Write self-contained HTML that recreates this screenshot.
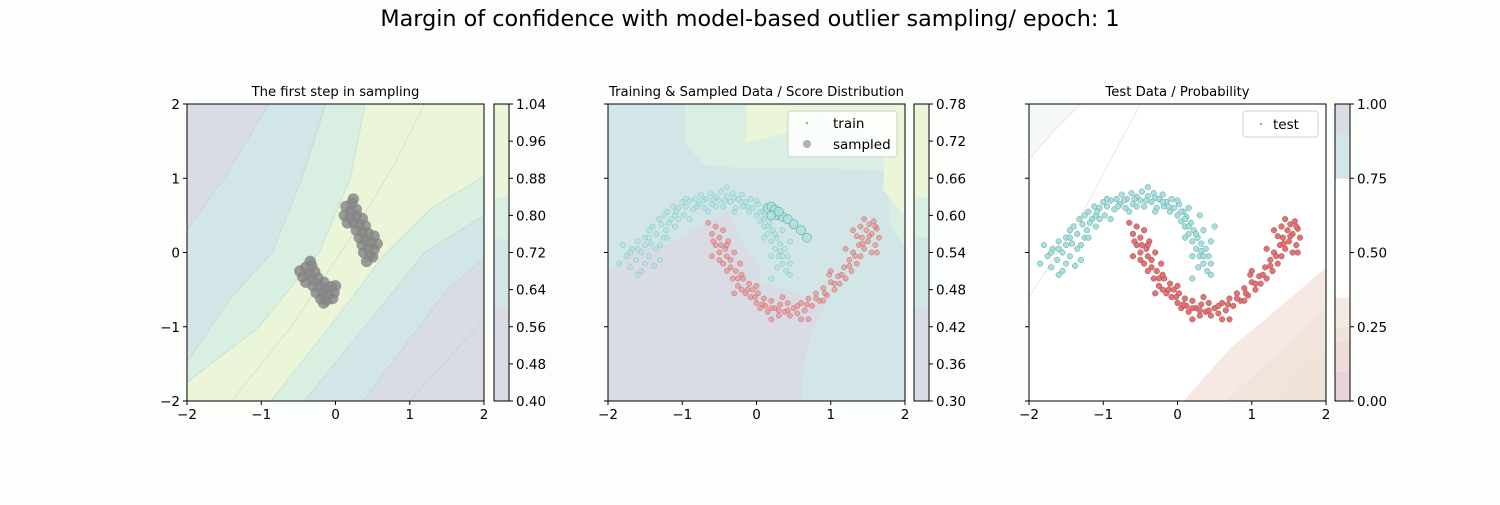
<!DOCTYPE html>
<html><head><meta charset="utf-8"><style>
html,body{margin:0;padding:0;background:#fcfefc;}
svg text{font-family:"DejaVu Sans","Liberation Sans",sans-serif;fill:#000;}
</style></head><body>
<svg id="fig" width="1500" height="500" viewBox="0 0 1500 500" xmlns="http://www.w3.org/2000/svg">
<rect width="1500" height="500" fill="#fcfefc"/>
<text x="750" y="26" font-size="22.3" text-anchor="middle">Margin of confidence with model-based outlier sampling/ epoch: 1</text>
</svg>
<script>
// ---------- data ----------
const axisTicks = [-2, -1, 0, 1, 2];
const cb1Ticks = [0.40, 0.48, 0.56, 0.64, 0.72, 0.80, 0.88, 0.96, 1.04];
const cb2Ticks = [0.30, 0.36, 0.42, 0.48, 0.54, 0.60, 0.66, 0.72, 0.78];
const cb3Ticks = [0.00, 0.25, 0.50, 0.75, 1.00];
const cb1Levels = [0.40, 0.60, 0.75, 0.84, 1.04];
const cb2Levels = [0.30, 0.45, 0.565, 0.63, 0.78];
const cb3Levels = [0.00, 0.10, 0.20, 0.25, 0.35, 0.75, 0.90, 1.00];
const cb1Colors = ['#d9dbe5', '#d3e6e7', '#d8efe2', '#ebf5d8'];
const cb3Colors = ['#e6d2d9', '#efdcd9', '#efe4d9', '#f6e8e3', '#ffffff', '#d3e6e7', '#d9dbe5'];

const moonCyan = [[-1.85,-0.15],[-1.75,-0.05],[-1.7,-0.2],[-1.68,0.05],[-1.62,-0.1],[-1.6,0.15],[-1.55,-0.25],[-1.55,0.0],[-1.5,0.2],[-1.5,0.1],[-1.45,-0.05],[-1.45,0.3],[-1.42,0.12],[-1.4,0.35],[-1.38,-0.18],[-1.35,0.25],[-1.32,0.45],[-1.3,0.1],[-1.28,0.38],[-1.25,0.5],[-1.22,0.3],[-1.2,0.55],[-1.15,0.45],[-1.12,0.62],[-1.1,0.5],[-1.05,0.6],[-1.0,0.68],[-0.98,0.5],[-0.95,0.62],[-0.9,0.7],[-0.85,0.58],[-0.82,0.72],[-0.78,0.65],[-0.75,0.78],[-0.7,0.6],[-0.68,0.72],[-0.62,0.8],[-0.6,0.65],[-0.55,0.75],[-0.5,0.7],[-0.48,0.82],[-0.45,0.62],[-0.4,0.76],[-0.35,0.68],[-0.32,0.8],[-0.28,0.6],[-0.25,0.72],[-0.2,0.78],[-0.18,0.62],[-0.15,0.68],[-0.1,0.55],[-0.08,0.72],[-0.05,0.6],[0.0,0.5],[0.02,0.65],[0.05,0.42],[0.08,0.55],[0.1,0.35],[0.12,0.48],[0.15,0.25],[0.18,0.4],[0.2,0.15],[0.22,0.3],[0.25,0.05],[0.27,0.2],[0.3,-0.05],[0.32,0.12],[0.35,-0.15],[0.38,0.05],[0.4,-0.25],[0.42,-0.05],[0.2,-0.05],[0.3,0.5],[0.5,0.35],[0.45,0.15],[0.1,0.2],[-1.3,-0.1],[-0.9,0.45],[-0.3,0.55],[0.2,-0.35],[-1.6,-0.3],[-1.1,0.35],[-0.65,0.55],[0.0,0.7],[0.35,0.3],[-1.8,0.1],[-0.4,0.88],[0.15,0.6],
 [-1.7,0.0],[-1.5,-0.15],[-1.35,0.05],[-1.25,0.2],[-1.18,0.4],[-1.08,0.55],[-0.95,0.72],[-0.8,0.62],[-0.72,0.7],[-0.58,0.72],[-0.42,0.7],[-0.3,0.74],[-0.12,0.62],[0.05,0.55],[0.15,0.35],[0.25,0.25],[0.32,0.02],[0.45,-0.15],[0.28,-0.2],[-1.45,0.2],[-1.6,0.05],[-1.05,0.45],[-0.55,0.62],[0.1,0.45],[0.35,-0.05],[0.45,-0.3],[-1.2,0.2],[-0.2,0.68]];
const moonRed = [[-0.65,0.4],[-0.6,0.25],[-0.55,0.1],[-0.55,0.35],[-0.5,0.0],[-0.5,0.2],[-0.45,-0.15],[-0.45,0.3],[-0.42,0.05],[-0.4,-0.25],[-0.38,0.15],[-0.35,-0.1],[-0.32,-0.35],[-0.3,0.0],[-0.28,-0.25],[-0.25,-0.45],[-0.22,-0.15],[-0.2,-0.5],[-0.18,-0.35],[-0.15,-0.55],[-0.1,-0.42],[-0.08,-0.6],[-0.05,-0.5],[0.0,-0.68],[0.02,-0.55],[0.05,-0.75],[0.1,-0.62],[0.12,-0.72],[0.15,-0.8],[0.2,-0.65],[0.25,-0.75],[0.3,-0.85],[0.32,-0.7],[0.38,-0.8],[0.42,-0.68],[0.45,-0.85],[0.5,-0.75],[0.55,-0.82],[0.6,-0.68],[0.65,-0.78],[0.7,-0.62],[0.75,-0.72],[0.8,-0.55],[0.85,-0.65],[0.9,-0.48],[0.95,-0.58],[1.0,-0.4],[1.05,-0.5],[1.1,-0.32],[1.12,-0.42],[1.18,-0.2],[1.2,-0.35],[1.25,-0.1],[1.28,-0.25],[1.3,0.0],[1.35,-0.15],[1.38,0.1],[1.4,-0.05],[1.42,0.2],[1.45,0.05],[1.48,0.3],[1.5,0.15],[1.52,0.38],[1.55,0.25],[1.58,0.42],[1.6,0.1],[1.62,0.32],[1.65,0.2],[1.3,0.3],[1.0,-0.25],[0.35,-0.6],[-0.3,-0.55],[-0.6,-0.05],[0.7,-0.9],[1.2,0.05],[-0.4,0.1],[0.0,-0.45],[0.6,-0.9],[1.4,0.35],[-0.2,-0.3],[0.9,-0.65],[1.55,0.0],
 [-0.58,0.15],[-0.48,0.1],[-0.4,-0.05],[-0.35,-0.2],[-0.25,-0.35],[-0.12,-0.5],[-0.02,-0.6],[0.08,-0.7],[0.2,-0.75],[0.3,-0.78],[0.42,-0.78],[0.55,-0.72],[0.68,-0.7],[0.8,-0.62],[0.92,-0.55],[1.05,-0.42],[1.15,-0.3],[1.25,-0.18],[1.33,-0.05],[1.43,0.12],[1.52,0.22],[1.6,0.35],[1.45,0.45],[1.62,0.0],[0.2,-0.9],[-0.5,-0.1],[0.98,-0.3],[1.35,0.22]];
const sampledPts = [[0.15,0.6],[0.2,0.62],[0.25,0.58],[0.28,0.5],[0.35,0.48],[0.42,0.45],[0.5,0.38],[0.6,0.3],[0.68,0.2],[0.2,0.5],[0.3,0.55]];
const blobLow = [[-0.48,-0.25],[-0.4,-0.2],[-0.32,-0.18],[-0.44,-0.33],[-0.36,-0.28],[-0.28,-0.26],[-0.4,-0.4],[-0.32,-0.36],[-0.24,-0.34],[-0.16,-0.4],[-0.3,-0.45],[-0.22,-0.44],[-0.14,-0.48],[-0.06,-0.46],[-0.26,-0.54],[-0.18,-0.54],[-0.1,-0.56],[-0.02,-0.54],[-0.2,-0.62],[-0.12,-0.64],[-0.04,-0.62],[-0.16,-0.68],[-0.34,-0.12],[0.0,-0.45]];
const blobHigh = [[0.14,0.62],[0.22,0.66],[0.2,0.56],[0.28,0.58],[0.12,0.5],[0.2,0.48],[0.28,0.5],[0.36,0.46],[0.16,0.4],[0.24,0.4],[0.32,0.38],[0.4,0.36],[0.28,0.3],[0.36,0.28],[0.44,0.26],[0.52,0.22],[0.32,0.2],[0.4,0.18],[0.48,0.14],[0.56,0.12],[0.36,0.1],[0.44,0.06],[0.52,0.04],[0.38,0.0],[0.46,-0.04],[0.42,-0.12],[0.5,-0.06],[0.24,0.72]];

// region boundaries (data coords)
const p1Regions = [
 {c:'#d9dbe5', pts:[[-2,-2],[2,-2],[2,2],[-2,2]]},
 {c:'#d3e6e7', pts:[[-2,0.3],[-1.5,1.0],[-0.9,2],[2,2],[2,-0.08],[1.5,-0.5],[0.37,-2],[-2,-2]]},
 {c:'#d8efe2', pts:[[-2,-1.47],[-1.4,-0.6],[-0.85,0],[-0.45,1],[-0.13,2],[2,2],[2,0.5],[1.2,0],[0.8,-0.5],[-0.42,-2],[-2,-2]]},
 {c:'#ebf5d8', pts:[[-2,-1.75],[-1.03,-1],[-0.22,0],[0.2,1],[0.4,2],[2,2],[2,1.03],[1.3,0.6],[0.68,0],[0.0,-0.9],[-0.87,-2],[-2,-2]]}
];
const p2Regions = [
 {c:'#d3e6e7', pts:[[-2,-2],[2,-2],[2,2],[-2,2]]},
 {c:'#d8efe2', pts:[[-0.97,2],[-0.95,1.45],[-0.7,1.18],[-0.1,1.13],[0.6,1.15],[1.75,1.1],[1.8,0.4],[2,0.05],[2,2]]},
 {c:'#ebf5d8', pts:[[-0.14,2],[-0.14,1.48],[0.4,1.6],[0.9,1.85],[1.7,1.5],[1.72,1.05],[1.7,0.85],[2,0.48],[2,2]]},
 {c:'#d9dbe5', pts:[[-2,-2],[-2,-0.3],[-1.66,0.05],[-1.2,0.11],[-0.74,0.37],[-0.38,0.55],[-0.22,0.2],[0.05,-0.22],[0.05,-0.4],[0.4,-0.5],[0.95,-0.74],[0.77,-1.0],[0.64,-1.5],[0.6,-2]]}
];
const p3Regions = [
 {c:'#f3f9f9', pts:[[-2,2],[-2,1.25],[-1.7,1.6],[-1.3,2]]},
 {c:'#f6e8e3', pts:[[0.08,-2],[0.7,-1.3],[1.3,-0.8],[2,-0.2],[2,-2]]},
 {c:'#f1e4dc', pts:[[0.65,-2],[1.3,-1.4],[2,-0.75],[2,-2]]},
 {c:'#efe2d6', pts:[[1.3,-2],[1.7,-1.55],[2,-1.3],[2,-2]]}
];
const p1Lines = [[[-2,0.3],[-1.5,1.0],[-0.9,2]],[[-2,-1.47],[-1.4,-0.6],[-0.85,0],[-0.45,1],[-0.13,2]],[[-2,-1.75],[-1.03,-1],[-0.22,0],[0.2,1],[0.4,2]],[[-1.4,-2],[-0.6,-1],[0.2,0.2],[0.8,1.2],[1.2,2]],[[-0.87,-2],[0.0,-0.9],[0.68,0],[1.3,0.6],[2,1.03]],[[-0.42,-2],[0.8,-0.5],[1.2,0],[2,0.5]],[[0.37,-2],[1.5,-0.5],[2,-0.08]],[[1.0,-2],[2,-0.9]]];
const p3Lines = [[[-2,-0.6],[-1.3,0.5],[-0.5,2]],[[-2,1.25],[-1.7,1.6],[-1.3,2]]];

// ---------- drawing ----------
const NS = 'http://www.w3.org/2000/svg';
const svg = document.getElementById('fig');
const W = 297, H = 297, TOP = 104;
function mk(tag, attrs, parent){const e=document.createElementNS(NS,tag);for(const k in attrs)e.setAttribute(k,attrs[k]);(parent||svg).appendChild(e);return e;}
function sx(x0,v){return x0+(v+2)/4*W;}
function sy(v){return TOP+H-(v+2)/4*H;}
function ptsStr(x0,arr){return arr.map(p=>sx(x0,p[0]).toFixed(1)+','+sy(p[1]).toFixed(1)).join(' ');}

function panel(x0, title, key){
  const g = mk('g',{});
  
  
  const clipId='clip-'+key;
  const cp=mk('clipPath',{id:clipId},g);mk('rect',{x:x0,y:TOP,width:W,height:H},cp);
  const inner=mk('g',{'clip-path':'url(#'+clipId+')'},g);
  mk('rect',{x:x0,y:TOP,width:W,height:H,fill:'#ffffff'},inner);
  const t=mk('text',{x:x0+W/2,y:TOP-8,'font-size':13.2,'text-anchor':'middle'},g);
  t.textContent=title;
  
  
  return {g,inner};
}
function axes(g,x0,key,showY){
  const fr=mk('rect',{x:x0,y:TOP,width:W,height:H,fill:'none',stroke:'#000','stroke-width':1},g);
  
  
  axisTicks.forEach(v=>{
    const x=sx(x0,v);
    mk('line',{x1:x,y1:TOP+H,x2:x,y2:TOP+H+4,stroke:'#000'},g);
    const t=mk('text',{x:x,y:TOP+H+18,'font-size':13.5,'text-anchor':'middle'},g);
    t.textContent=v<0?'\u2212'+Math.abs(v):String(v);
    
    
    const y=sy(v);
    mk('line',{x1:x0,y1:y,x2:x0-4,y2:y,stroke:'#000'},g);
    if(showY){
      const ty=mk('text',{x:x0-7,y:y+5,'font-size':13.5,'text-anchor':'end'},g);
      ty.textContent=v<0?'\u2212'+Math.abs(v):String(v);
      
      
    }
  });
}
function colorbar(x,key,levels,colors,ticks,lo,hi){
  const g=mk('g',{});
  
  
  const cy=v=>TOP+H-(v-lo)/(hi-lo)*H;
  for(let i=0;i<colors.length;i++){
    mk('rect',{x:x,y:cy(levels[i+1]),width:15,height:cy(levels[i])-cy(levels[i+1])+0.5,fill:colors[i]},g);
  }
  mk('rect',{x:x,y:TOP,width:15,height:H,fill:'none',stroke:'#000'},g);
  ticks.forEach(v=>{
    const y=cy(v);
    mk('line',{x1:x+15,y1:y,x2:x+19,y2:y,stroke:'#000'},g);
    const t=mk('text',{x:x+22,y:y+5,'font-size':13.5},g);
    t.textContent=v.toFixed(2);
    
    
  });
}
function regions(inner,x0,regs){regs.forEach(r=>{mk('polygon',{points:ptsStr(x0,r.pts),fill:r.c},inner);});}
function lines(inner,x0,ls,col,op){ls.forEach(l=>{mk('polyline',{points:ptsStr(x0,l),fill:'none',stroke:col,'stroke-width':0.8,opacity:op},inner);});}
function scatter(inner,x0,arr,r,fill,stroke,op,name){
  arr.forEach(p=>{
    const c=mk('circle',{cx:sx(x0,p[0]),cy:sy(p[1]),r:r,fill:fill,stroke:stroke,'stroke-width':0.5,'fill-opacity':op},inner);
    
    
  });
}

// Panel 1
const X1=187,X2=608,X3=1029;
let P=panel(X1,'The first step in sampling','sampling');
regions(P.inner,X1,p1Regions);
lines(P.inner,X1,p1Lines,'#a6d2cc',0.5);
scatter(P.inner,X1,blobLow,5.5,'#858585','#909090',0.8,'low-cluster-point');
scatter(P.inner,X1,blobHigh,5.5,'#858585','#909090',0.8,'high-cluster-point');
axes(P.g,X1,'sampling',true);
colorbar(494,'sampling',cb1Levels,cb1Colors,cb1Ticks,0.40,1.04);

// Panel 2
P=panel(X2,'Training & Sampled Data / Score Distribution','training');
regions(P.inner,X2,p2Regions);
scatter(P.inner,X2,moonCyan,2.6,'#a8e2e0','#7cc4c4',0.6,'train-point-cyan');
scatter(P.inner,X2,moonRed,2.6,'#e58585','#d26a6a',0.6,'train-point-red');
scatter(P.inner,X2,sampledPts,4.5,'#a8e2e0','#4f8f90',0.8,'sampled-point');
axes(P.g,X2,'training',false);
colorbar(914,'training',cb2Levels,cb1Colors,cb2Ticks,0.30,0.78);
let lg=mk('g',{});


mk('rect',{x:788,y:111,width:109,height:46,rx:3,fill:'#ffffff','fill-opacity':0.85,stroke:'#d0d0d0'},lg);
mk('circle',{cx:807,cy:123,r:1.3,fill:'#aaaaaa'},lg);
mk('circle',{cx:807,cy:144,r:4,fill:'#b0b0b0'},lg);
let tt=mk('text',{x:833,y:128,'font-size':13.5},lg);tt.textContent='train';
tt=mk('text',{x:833,y:149,'font-size':13.5},lg);tt.textContent='sampled';

// Panel 3
P=panel(X3,'Test Data / Probability','test');
regions(P.inner,X3,p3Regions);
lines(P.inner,X3,p3Lines,'#e8c8c0',0.6);
scatter(P.inner,X3,moonCyan,2.8,'#a3dedc','#5f9f9f',0.95,'test-point-cyan');
scatter(P.inner,X3,moonRed,2.8,'#de6c6c','#a84a4a',0.95,'test-point-red');
axes(P.g,X3,'test',false);
colorbar(1335,'test',cb3Levels,cb3Colors,cb3Ticks,0,1);
lg=mk('g',{});


mk('rect',{x:1243,y:111,width:75,height:26,rx:3,fill:'#ffffff','fill-opacity':0.85,stroke:'#d0d0d0'},lg);
mk('circle',{cx:1261,cy:124,r:1.3,fill:'#aaaaaa'},lg);
tt=mk('text',{x:1273,y:129,'font-size':13.5},lg);tt.textContent='test';
</script>
</body></html>
